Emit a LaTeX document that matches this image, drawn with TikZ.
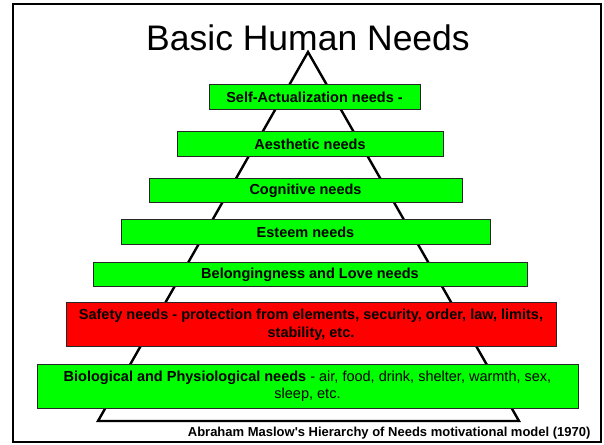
\documentclass[tikz,border=0pt]{standalone}
\usepackage{fontspec}
\setmainfont{Liberation Sans}
\usetikzlibrary{positioning}

\begin{document}
\begin{tikzpicture}[
x=1pt, y=-1pt,
    L/.style = {rectangle, draw=black!85, line width=0.8pt,% styles of level boxes
                fill=green, minimum height=24.5pt,
                inner sep=0pt, outer sep=0pt, align=center,
                font=\bfseries\fontsize{14.5}{17.5}\selectfont},
    W/.style = {L, minimum height=44pt},% wide boxes with two lines
  pyr/.style = {draw, line width=2.4pt, line join=miter},
                        ]
\useasboundingbox (0,0) rectangle (604,444);
\draw[line width=2pt] (13,4) rectangle (601,442);
\node[anchor=base, font=\fontsize{35.5}{40}\selectfont] (title) at (308,51) {Basic Human Needs};
\draw[pyr] (308,52) -- (519,421) -- (98,421) -- cycle;
\foreach \n/\x/\y/\w/\t in {1/314.5/97/211/{Self-Actualization needs -},
                            2/310/144/266/{Aesthetic needs},
                            3/305.5/190.5/313/{Cognitive needs},
                            4/305.5/232/369/{Esteem needs},
                            5/310/274.5/434/{Belongingness and Love needs}}% <-- upper levels
    \node[L, minimum width=\w pt] (lvl\n) at (\x,\y) {\t};
\node[W, fill=red, minimum width=490pt] (lvl6) at (311,324.5)
    {Safety needs - protection from elements, security, order, law, limits,\\ stability, etc.};
\node[W, minimum width=541pt] (lvl7) at (307.5,386)
    {Biological and Physiological needs\mdseries{} - air, food, drink, shelter, warmth, sex,\\ \mdseries sleep, etc.};
\node[anchor=base east, font=\bfseries\fontsize{13}{15}\selectfont] (caption) at (594,436)
    {Abraham Maslow\textquotesingle s Hierarchy of Needs motivational model (1970)};
\end{tikzpicture}
\end{document}
